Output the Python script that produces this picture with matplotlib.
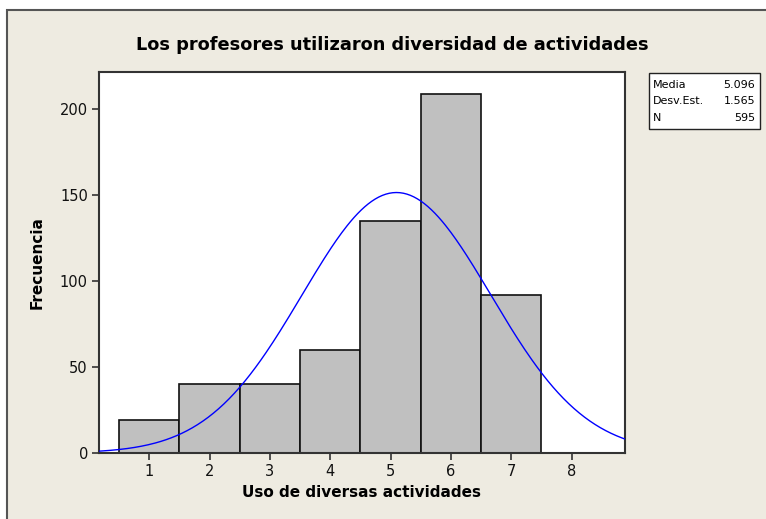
import numpy as np
import matplotlib
matplotlib.use("Agg")
import matplotlib.pyplot as plt
import matplotlib.patches as mpatches

# histogram counts
valores = [1, 2, 3, 4, 5, 6, 7]
frecuencia = [19, 40, 40, 60, 135, 209, 92]
stat_labels = ["Media", "Desv.Est.", "N"]
stat_values = ["5.096", "1.565", "595"]

W, H = 766, 519
fig = plt.figure(figsize=(W / 100, H / 100), dpi=100)
fig.patch.set_facecolor("white")

# beige panel with dark frame on left/top
frame = mpatches.Rectangle((7 / W, -0.2), 1.3, 1.2 - 10 / H, transform=fig.transFigure,
                           facecolor="#EEEBE1", edgecolor="#555555", linewidth=1.5, zorder=-10)
fig.patches.append(frame)

ax = fig.add_axes([99 / W, 1 - 453 / H, (625 - 99) / W, (453 - 72) / H])
ax.set_facecolor("white")

ax.bar(valores, frecuencia, width=1.0, color="#C0C0C0", edgecolor="#111111", linewidth=1.2, zorder=2)

# fitted normal curve from the data
v = np.repeat(valores, frecuencia)
n = len(v)
mu = v.mean()
sd = v.std(ddof=1)
xlo, xhi = 0.166, 8.884
xs = np.linspace(xlo, xhi, 300)
ys = n * 1.0 * np.exp(-0.5 * ((xs - mu) / sd) ** 2) / (sd * np.sqrt(2 * np.pi))
ax.plot(xs, ys, color="#0000FF", linewidth=1.0, zorder=3)

ax.set_xlim(xlo, xhi)
ax.set_ylim(0, 221.8)
ax.set_xticks(range(1, 9))
ax.set_yticks([0, 50, 100, 150, 200])
ax.tick_params(direction="out", length=5, width=1.2, color="#333333", labelsize=10.5,
               labelcolor="#111111", pad=3)
for s in ax.spines.values():
    s.set_color("#333333")
    s.set_linewidth(1.5)

ax.set_xlabel("Uso de diversas actividades", fontsize=11, fontweight="bold", labelpad=4)
ax.set_ylabel("Frecuencia", fontsize=11, fontweight="bold", labelpad=11)

fig.text(392 / W, 1 - 45 / H, "Los profesores utilizaron diversidad de actividades",
         ha="center", va="center", fontsize=12.8, fontweight="bold")

# stats box
bx0, by0, bx1, by1 = 649, 73, 760, 129
box = mpatches.Rectangle((bx0 / W, 1 - by1 / H), (bx1 - bx0) / W, (by1 - by0) / H,
                         transform=fig.transFigure, facecolor="white", edgecolor="#222222",
                         linewidth=1.0)
fig.patches.append(box)
for i, (lab, val) in enumerate(zip(stat_labels, stat_values)):
    yy = 1 - (85 + i * 16.5) / H
    fig.text(653 / W, yy, lab, ha="left", va="center", fontsize=8)
    fig.text(755 / W, yy, val, ha="right", va="center", fontsize=8)

fig.savefig("out.png", dpi=100)
